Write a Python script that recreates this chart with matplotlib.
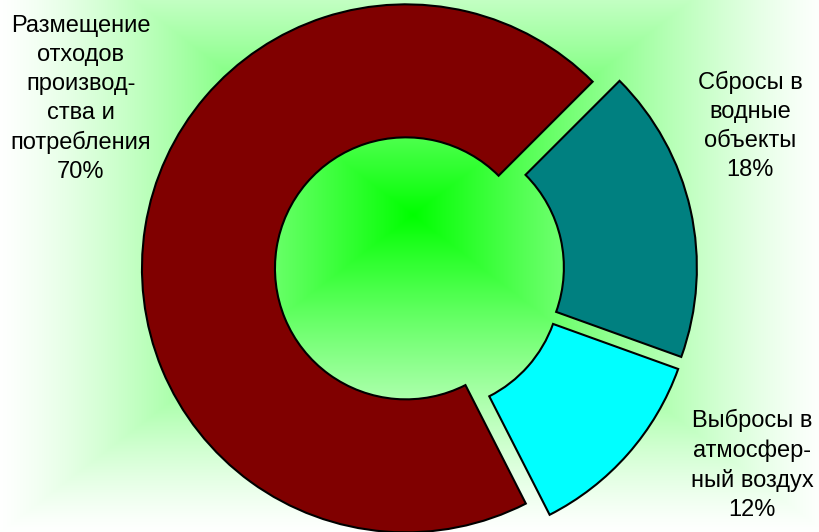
import numpy as np
import matplotlib
matplotlib.use("Agg")
import matplotlib.pyplot as plt

plt.rcParams['font.family'] = ['Liberation Sans', 'DejaVu Sans']

# data
labels = ['Размещение\nотходов\nпроизвод-\nства и\nпотребления\n70%',
          'Выбросы в\nатмосфер-\nный воздух\n12%',
          'Сбросы в\nводные\nобъекты\n18%']
values = [70, 12, 18]
colors = ['#800000', '#00FFFF', '#008080']

W, H = 819, 532
fig = plt.figure(figsize=(W / 100, H / 100), dpi=100)
ax = fig.add_axes([0, 0, 1, 1])

# background: rectangular "from centre" gradient, green -> white
gx, gy = 413, 215
xx, yy = np.meshgrid(np.arange(W) + 0.5, np.arange(H) + 0.5)
t = np.maximum(np.abs(xx - gx) / 1.3, np.abs(yy - gy)) / 320.0
s = np.clip(1 - t, 0, 1) ** 1.3
img = np.dstack([1 - s, np.ones_like(s), 1 - s])
ax.imshow(img, extent=(0, W, 0, H), origin='upper', zorder=0, interpolation='bilinear')

# exploded doughnut
R, r = 264, 131
ax.pie(values, colors=colors, startangle=45, counterclock=True,
       radius=R, center=(419.5, H - 270.5), explode=[13.7] * 3,
       wedgeprops=dict(width=R - r, edgecolor='black', linewidth=1.5))

# labels (same order as values)
pos = [(81, 99), (752, 465), (750, 126)]
for lab, (x, y) in zip(labels, pos):
    ax.text(x, H - y, lab, ha='center', va='center', fontsize=17,
            linespacing=1.4, color='black')

ax.set_xlim(0, W)
ax.set_ylim(0, H)
ax.set_aspect('auto')
ax.axis('off')

fig.savefig('out.png', dpi=100)
